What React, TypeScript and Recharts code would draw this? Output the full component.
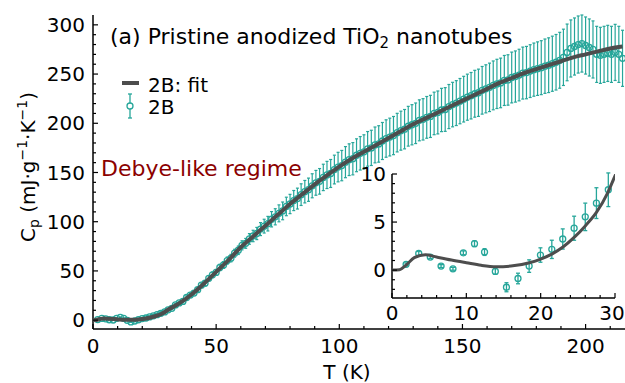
import React from "react";
import { ComposedChart, Line, Scatter, ErrorBar, XAxis, YAxis, CartesianGrid } from "recharts";

const FONT = "'DejaVu Sans', sans-serif";
const TEAL = "#26a69a";
const GREY = "#4d4d4d";

// fit curve (T in K, Cp in mJ/g/K)
const fitT = [
  0, 1, 2, 3, 4.5, 6, 8, 10, 12, 14, 16, 18.5, 20, 21.5, 23, 24.5, 26, 27.5, 29, 30,
  35, 40, 45, 50, 55, 60, 65, 70, 75, 80, 85, 90, 95, 100, 105, 110, 115, 120, 125, 130,
  135, 140, 145, 150, 155, 160, 165, 170, 175, 180, 185, 190, 195, 200, 205, 210, 215,
];
const fitCp = [
  0, 0.05, 0.6, 1.3, 1.6, 1.36, 1.05, 0.77, 0.5, 0.36, 0.42, 0.77, 1.15, 1.67, 2.4, 3.4, 4.6, 6.0, 8.0, 9.8,
  17, 26, 37, 49, 61, 74, 85, 96, 107, 118, 128, 138, 147, 156, 164, 171, 178, 185, 192, 199,
  205, 211, 217, 223, 229, 235, 241, 246, 251, 255, 259, 263, 267, 270, 273, 276, 278,
];

// measured sample 2B
const ptT = [
  1.9, 3.6, 5.15, 6.6, 8.2, 9.6, 11.1, 12.45, 13.9, 15.4, 16.95, 18.45, 19.97, 21.5, 22.97, 24.5, 26.0, 27.5, 29.1,
  30.5, 32, 33.5, 35, 36.5, 38, 39.5, 41, 42.5, 44,
  45.5, 47, 48.5, 50, 51.5, 53, 54.5, 56, 57.5, 59,
  60.5, 62, 63.5, 65, 66.5, 68, 69.5, 71, 72.5, 74,
  75.5, 77, 78.5, 80, 81.5, 83, 84.5, 86, 87.5, 89,
  90.5, 92, 93.5, 95, 96.5, 98, 99.5, 101, 102.5, 104,
  105.5, 107, 108.5, 110, 111.5, 113, 114.5, 116, 117.5, 119,
  120.5, 122, 123.5, 125, 126.5, 128, 129.5, 131, 132.5, 134,
  135.5, 137, 138.5, 140, 141.5, 143, 144.5, 146, 147.5, 149,
  150.5, 152, 153.5, 155, 156.5, 158, 159.5, 161, 162.5, 164,
  165.5, 167, 168.5, 170, 171.5, 173, 174.5, 176, 177.5, 179,
  180.5, 182, 183.5, 185, 186.5, 188, 189.5, 191, 192.5, 194,
  195.5, 197, 198.5, 200, 201.5, 203, 204.5, 206, 207.5, 209,
  210.5, 212, 213.5, 215,
];
const ptCp = [
  0.6, 1.74, 1.36, 0.42, 0.14, 1.8, 2.75, 1.88, -0.14, -1.78, -0.87, 0.42, 1.57, 2.16, 3.24, 4.36, 5.54, 6.97, 8.36,
  10.5, 12, 15.5, 17.5, 19, 23, 25.5, 27.5, 31, 35.5,
  37.5, 42.5, 46, 48.5, 53.5, 56, 60.5, 63, 68, 71,
  76, 78, 82.5, 85.5, 88, 92.5, 95.5, 98, 102.5, 105,
  108.5, 111, 115.5, 118, 121.5, 123.5, 127.5, 130.5, 132.5, 136.5,
  139.5, 141, 145, 147.5, 149, 153, 155.5, 157, 160.5, 163,
  164, 167.5, 169.5, 171, 174, 175, 178, 179, 182, 184.5,
  186, 187.5, 190.5, 192.5, 194, 197, 198.5, 200, 203, 204,
  206, 207, 210, 211, 213.5, 214, 217, 219, 220.5, 222.5,
  224.5, 226.5, 228, 230, 231, 233.5, 235, 236.5, 238.5, 240,
  241, 243.5, 244, 246.5, 247.5, 249, 251, 251.5, 253, 254.5,
  255.5, 256.5, 258, 259, 260.5, 262, 264, 267, 272, 276,
  278, 280, 281, 279, 277, 275, 270, 269, 270, 271,
  270, 272, 270, 266,
];
const ptErr = [
  0.15, 0.2, 0.15, 0.15, 0.15, 0.2, 0.3, 0.35, 0.3, 0.47, 0.55, 0.65, 0.75, 0.95, 1.05, 1.25, 1.43, 1.6, 1.75,
  1, 1, 1.2, 1.2, 1.4, 1.5, 1.6, 1.8, 2, 2.2,
  2.4, 2.6, 2.8, 3, 3.2, 3.4, 3.6, 3.8, 4, 4.3,
  4.6, 5, 5.4, 5.8, 6.2, 6.6, 7, 7.4, 7.8, 8.2,
  8.6, 9, 9.4, 9.8, 10.2, 10.6, 11, 11.4, 11.8, 12.2,
  12.6, 13, 13.4, 13.8, 14.2, 14.6, 15, 15.4, 15.8, 16.1,
  16.4, 16.7, 17, 17.3, 17.6, 17.9, 18.2, 18.5, 18.8, 19,
  19.2, 19.4, 19.6, 19.8, 20, 20.2, 20.4, 20.6, 20.8, 21,
  21.2, 21.4, 21.6, 21.8, 22, 22.2, 22.4, 22.6, 22.8, 23,
  23.2, 23.4, 23.6, 23.8, 24, 24.2, 24.4, 24.6, 24.8, 25,
  25.2, 25.4, 25.6, 25.8, 26, 26.2, 26.4, 26.6, 26.8, 27,
  27.2, 27.4, 27.6, 27.8, 28, 28.2, 28.4, 28.6, 28.8, 29,
  29, 29, 29, 29, 29, 29, 28.5, 28.5, 28.5, 28.5,
  28.5, 28.5, 28.5, 28.5,
];

// ticks
const mainXTicks = [0, 10, 20, 30, 40, 50, 60, 70, 80, 90, 100, 110, 120, 130, 140, 150, 160, 170, 180, 190, 200, 210];
const mainXMajor = [0, 50, 100, 150, 200];
const mainYTicks = [0, 10, 20, 30, 40, 50, 60, 70, 80, 90, 100, 110, 120, 130, 140, 150, 160, 170, 180, 190, 200, 210, 220, 230, 240, 250, 260, 270, 280, 290, 300];
const mainYMajor = [0, 50, 100, 150, 200, 250, 300];
const insetXTicks = [0, 2, 4, 6, 8, 10, 12, 14, 16, 18, 20, 22, 24, 26, 28, 30];
const insetXMajor = [0, 10, 20, 30];
const insetYTicks = [-2, -1, 0, 1, 2, 3, 4, 5, 6, 7, 8, 9, 10];
const insetYMajor = [0, 5, 10];

const fitData = fitT.map((T, i) => ({ T, cp: fitCp[i] }));
const pts = ptT.map((T, i) => ({ T, cp: ptCp[i], err: ptErr[i] }));
const insetPts = pts.filter((p) => p.T <= 30);

const makeTick = (side: string, majors: number[], gap: number, showLabel: boolean, maxX = 9999) => (props: any) => {
  const { x, y, payload } = props;
  const v = payload.value;
  const major = majors.includes(v);
  const len = major ? 5 : 3;
  let x2 = x;
  let y2 = y;
  if (side === "bottom") y2 = y - len;
  else if (side === "top") y2 = y + len;
  else if (side === "left") x2 = x + len;
  else x2 = x - len;
  let label = null;
  if (showLabel && major) {
    if (side === "bottom")
      label = (
        <text x={Math.min(x, maxX)} y={y + gap} textAnchor="middle" fontSize={20} fontFamily={FONT} fill="#000">
          {v}
        </text>
      );
    else if (side === "left")
      label = (
        <text x={x - gap} y={y} dy="0.36em" textAnchor="end" fontSize={20} fontFamily={FONT} fill="#000">
          {v}
        </text>
      );
  }
  return (
    <g>
      <line x1={x} y1={y} x2={x2} y2={y2} stroke="#000" strokeWidth={1.2} />
      {label}
    </g>
  );
};

const Ring = (r: number) => (props: any) => (
  <circle cx={props.cx} cy={props.cy} r={r} fill="none" stroke={TEAL} strokeWidth={1.3} />
);

const axisLine = { stroke: "#000", strokeWidth: 1.5 };

function Inset() {
  return (
    <ComposedChart width={285} height={170} margin={{ top: 14, right: 10, bottom: 2, left: 12 }}>
      <CartesianGrid horizontal={false} vertical={false} fill="#fff" />
      <XAxis
        xAxisId="b" dataKey="T" type="number" domain={[0, 30]} allowDataOverflow ticks={insetXTicks} interval={0}
        height={30} tickSize={0} tickMargin={0} axisLine={axisLine} tickLine={false}
        tick={makeTick("bottom", insetXMajor, 22, true, 272)}
      />
      <XAxis
        xAxisId="t" orientation="top" type="number" domain={[0, 30]} allowDataOverflow ticks={insetXTicks} interval={0}
        height={0} tickSize={0} tickMargin={0} axisLine={axisLine} tickLine={false}
        tick={makeTick("top", insetXMajor, 0, false)}
      />
      <YAxis
        yAxisId="l" dataKey="cp" type="number" domain={[-2.9, 10]} allowDataOverflow ticks={insetYTicks} interval={0}
        width={40} tickSize={0} tickMargin={0} axisLine={axisLine} tickLine={false}
        tick={makeTick("left", insetYMajor, 6, true)}
      />
      <YAxis
        yAxisId="r" orientation="right" type="number" domain={[-2.9, 10]} allowDataOverflow ticks={insetYTicks} interval={0}
        width={0} tickSize={0} tickMargin={0} axisLine={axisLine} tickLine={false}
        tick={makeTick("right", insetYMajor, 0, false)}
      />
      <Scatter data={insetPts} xAxisId="b" yAxisId="l" dataKey="cp" shape={Ring(3)} isAnimationActive={false}>
        <ErrorBar dataKey="err" direction="y" width={2} stroke={TEAL} strokeWidth={1.3} />
      </Scatter>
      <Line
        data={fitData} xAxisId="b" yAxisId="l" dataKey="cp" type="monotone" stroke={GREY} strokeWidth={3}
        dot={false} activeDot={false} isAnimationActive={false} zIndex={700}
      />
    </ComposedChart>
  );
}

export default function App() {
  return (
    <div style={{ position: "absolute", left: 0, top: 0, width: 625, height: 383, background: "#fff", fontFamily: FONT, overflow: "hidden" }}>
      <ComposedChart width={625} height={383} margin={{ top: 15, right: 0, bottom: 24, left: 33 }}>
        <XAxis
          xAxisId="b" dataKey="T" type="number" domain={[0, 216]} allowDataOverflow ticks={mainXTicks} interval={0}
          height={30} tickSize={0} tickMargin={0} axisLine={axisLine} tickLine={false}
          tick={makeTick("bottom", mainXMajor, 24, true)}
        />
        <XAxis
          xAxisId="t" orientation="top" type="number" domain={[0, 216]} allowDataOverflow ticks={mainXTicks} interval={0}
          height={0} tickSize={0} tickMargin={0} axisLine={axisLine} tickLine={false}
          tick={makeTick("top", mainXMajor, 0, false)}
        />
        <YAxis
          yAxisId="l" dataKey="cp" type="number" domain={[-9, 310]} allowDataOverflow ticks={mainYTicks} interval={0}
          width={60} tickSize={0} tickMargin={0} axisLine={axisLine} tickLine={false}
          tick={makeTick("left", mainYMajor, 8, true)}
        />
        <Scatter data={pts} xAxisId="b" yAxisId="l" dataKey="cp" shape={Ring(3)} isAnimationActive={false}>
          <ErrorBar dataKey="err" direction="y" width={1.5} stroke={TEAL} strokeWidth={1.2} />
        </Scatter>
        <Line
          data={fitData} xAxisId="b" yAxisId="l" dataKey="cp" type="monotone" stroke={GREY} strokeWidth={4}
          dot={false} activeDot={false} isAnimationActive={false} zIndex={700}
        />
      </ComposedChart>

      <div style={{ position: "absolute", left: 340, top: 160 }}>
        <Inset />
      </div>

      <div style={{ position: "absolute", left: 110, top: 26, fontSize: 22, lineHeight: "22px", whiteSpace: "nowrap", color: "#000" }}>
        (a) Pristine anodized TiO<sub style={{ fontSize: 15, verticalAlign: "-4px", lineHeight: 0 }}>2</sub> nanotubes
      </div>

      <div style={{ position: "absolute", left: 122, top: 81, width: 17, height: 4, background: GREY }} />
      <div style={{ position: "absolute", left: 148, top: 75, fontSize: 20, lineHeight: "20px", whiteSpace: "nowrap" }}>2B: fit</div>
      <svg style={{ position: "absolute", left: 124, top: 93 }} width={12} height={26}>
        <line x1={6} y1={1} x2={6} y2={25} stroke={TEAL} strokeWidth={1.3} />
        <line x1={4} y1={1} x2={8} y2={1} stroke={TEAL} strokeWidth={1.3} />
        <line x1={4} y1={25} x2={8} y2={25} stroke={TEAL} strokeWidth={1.3} />
        <circle cx={6} cy={13} r={3} fill="#fff" stroke={TEAL} strokeWidth={1.3} />
      </svg>
      <div style={{ position: "absolute", left: 148, top: 97, fontSize: 20, lineHeight: "20px", whiteSpace: "nowrap" }}>2B</div>

      <div style={{ position: "absolute", left: 101, top: 158, fontSize: 22, lineHeight: "22px", whiteSpace: "nowrap", color: "#8b0000" }}>
        Debye-like regime
      </div>

      <div style={{ position: "absolute", left: 347, top: 362, fontSize: 20, lineHeight: "20px", whiteSpace: "nowrap", transform: "translateX(-50%)" }}>
        T (K)
      </div>

      <div
        style={{
          position: "absolute", left: 28, top: 167, fontSize: 20, lineHeight: "20px", whiteSpace: "nowrap",
          transform: "translate(-50%, -50%) rotate(-90deg)",
        }}
      >
        C<sub style={{ fontSize: 14, verticalAlign: "-4px", lineHeight: 0 }}>p</sub> (mJ·g
        <sup style={{ fontSize: 14, verticalAlign: "8px", lineHeight: 0 }}>−1</sup>·K
        <sup style={{ fontSize: 14, verticalAlign: "8px", lineHeight: 0 }}>−1</sup>)
      </div>
    </div>
  );
}
